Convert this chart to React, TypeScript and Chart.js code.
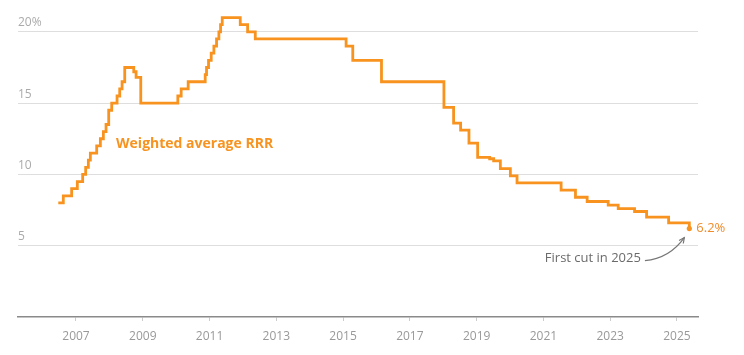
import React, { useEffect, useRef } from "react";
import { Chart, registerables } from "chart.js";

Chart.register(...registerables);

// ---- Data ----
const changeDates: number[] = [
  2006.47, 2006.62, 2006.87, 2007.04, 2007.2, 2007.29, 2007.37, 2007.43, 2007.62, 2007.73,
  2007.82, 2007.9, 2007.98, 2008.07, 2008.23, 2008.31, 2008.38, 2008.46, 2008.73, 2008.8,
  2008.94, 2010.05, 2010.15, 2010.36, 2010.87, 2010.91, 2010.97, 2011.05, 2011.13, 2011.21,
  2011.28, 2011.33, 2011.38, 2011.92, 2012.14, 2012.37, 2015.09, 2015.29, 2016.15, 2018.02,
  2018.31, 2018.52, 2018.77, 2019.03, 2019.39, 2019.51, 2019.71, 2020.01, 2020.21, 2021.53,
  2021.96, 2022.31, 2022.94, 2023.24, 2023.73, 2024.09, 2024.75, 2025.37,
];
const rrrValues: number[] = [
  8.0, 8.5, 9.0, 9.5, 10.0, 10.5, 11.0, 11.5, 12.0, 12.5,
  13.0, 13.5, 14.5, 15.0, 15.5, 16.0, 16.5, 17.5, 17.2, 16.8,
  15.0, 15.5, 16.0, 16.5, 17.0, 17.5, 18.0, 18.5, 19.0, 19.5,
  20.0, 20.5, 21.0, 20.5, 20.0, 19.5, 19.0, 18.0, 16.5, 14.7,
  13.6, 13.1, 12.2, 11.2, 11.1, 10.95, 10.4, 9.9, 9.4, 8.9,
  8.4, 8.1, 7.85, 7.6, 7.4, 7.0, 6.6, 6.2,
];
const xTickYears: number[] = [2007, 2009, 2011, 2013, 2015, 2017, 2019, 2021, 2023, 2025];
const yTickValues: number[] = [0, 5, 10, 15, 20];
const seriesLabel = "Weighted average RRR";
const seriesLabelAt: [number, number] = [2008.2, 12.1];
const noteText = "First cut in 2025";
const noteAt: [number, number] = [2023.92, 4.1];

const ORANGE = "#F7931E";
const FONT = '"Open Sans", "DejaVu Sans", sans-serif';

const annotations = {
  id: "annotations",
  afterDatasetsDraw(chart: any) {
    const { ctx, scales } = chart;
    const x = scales.x;
    const y = scales.y;
    const last = rrrValues.length - 1;
    const lx = x.getPixelForValue(changeDates[last]);
    const ly = y.getPixelForValue(rrrValues[last]);
    ctx.save();
    ctx.textBaseline = "middle";

    // series label
    ctx.font = `bold 14px ${FONT}`;
    ctx.fillStyle = ORANGE;
    ctx.textAlign = "left";
    ctx.fillText(seriesLabel, x.getPixelForValue(seriesLabelAt[0]), y.getPixelForValue(seriesLabelAt[1]));

    // end value label
    ctx.font = `13px ${FONT}`;
    ctx.fillStyle = "#F08C2A";
    ctx.fillText(rrrValues[last].toFixed(1) + "%", lx + 7, ly);

    // note
    const nx = x.getPixelForValue(noteAt[0]);
    const ny = y.getPixelForValue(noteAt[1]);
    ctx.font = `13px ${FONT}`;
    ctx.fillStyle = "#6b6b6b";
    ctx.textAlign = "right";
    ctx.fillText(noteText, nx, ny);

    // curved arrow
    const sx = nx + 4, sy = ny + 2;
    const ex = lx - 5, ey = ly + 9;
    const cx = lx - 20, cy = ny;
    ctx.strokeStyle = "#777";
    ctx.lineWidth = 1.2;
    ctx.beginPath();
    ctx.moveTo(sx, sy);
    ctx.quadraticCurveTo(cx, cy, ex, ey);
    ctx.stroke();
    const ang = Math.atan2(ey - cy, ex - cx);
    const hl = 6;
    ctx.beginPath();
    ctx.moveTo(ex - hl * Math.cos(ang - 0.45), ey - hl * Math.sin(ang - 0.45));
    ctx.lineTo(ex, ey);
    ctx.lineTo(ex - hl * Math.cos(ang + 0.45), ey - hl * Math.sin(ang + 0.45));
    ctx.stroke();
    ctx.restore();
  },
};

export default function App() {
  const canvasRef = useRef<HTMLCanvasElement | null>(null);

  useEffect(() => {
    if (!canvasRef.current) return;
    const last = rrrValues.length - 1;
    const chart = new Chart(canvasRef.current, {
      type: "line",
      data: {
        datasets: [
          {
            label: seriesLabel,
            data: changeDates.map((d, i) => ({ x: d, y: rrrValues[i] })),
            borderColor: ORANGE,
            backgroundColor: ORANGE,
            borderWidth: 2.8,
            stepped: "before",
            pointRadius: (c: any) => (c.dataIndex === last ? 2.6 : 0),
            pointHoverRadius: 0,
            pointBorderWidth: 0,
            fill: false,
          },
        ],
      },
      options: {
        responsive: false,
        animation: false,
        devicePixelRatio: 1,
        layout: { padding: { left: 18, right: 46, top: 0, bottom: 0 } },
        plugins: { legend: { display: false }, tooltip: { enabled: false } },
        scales: {
          x: {
            type: "linear",
            min: 2005.263,
            max: 2025.63,
            afterBuildTicks: (s: any) => {
              s.ticks = xTickYears.map((v) => ({ value: v }));
            },
            afterFit: (s: any) => {
              s.height = 38;
              s.paddingLeft = 0;
              s.paddingRight = 0;
            },
            ticks: {
              callback: (v: any) => String(v),
              color: "#999",
              font: { family: FONT, size: 12 },
              padding: 8,
              maxRotation: 0,
              autoSkip: false,
            },
            grid: {
              display: true,
              drawOnChartArea: false,
              drawTicks: true,
              tickLength: 4,
              color: "#ccc",
            },
            border: { display: true, color: "#8a8a8a", width: 1.5 },
          },
          y: {
            type: "linear",
            min: 0,
            max: 22.05,
            afterBuildTicks: (s: any) => {
              s.ticks = yTickValues.map((v) => ({ value: v }));
            },
            afterFit: (s: any) => {
              s.width = 0;
              s.paddingTop = 0;
              s.paddingBottom = 0;
            },
            ticks: {
              mirror: true,
              padding: 0,
              labelOffset: -9,
              color: "#aaa",
              font: { family: FONT, size: 12 },
              callback: (v: any) => (v === 0 ? "" : v === 20 ? "20%" : String(v)),
            },
            grid: {
              drawTicks: false,
              color: (c: any) => (c.tick && c.tick.value === 0 ? "rgba(0,0,0,0)" : "#dedede"),
              lineWidth: 1,
            },
            border: { display: false },
          },
        },
      },
      plugins: [annotations],
    });
    return () => chart.destroy();
  }, []);

  return (
    <div style={{ position: "absolute", left: 0, top: 0, width: 744, height: 355, background: "#fff" }}>
      <canvas ref={canvasRef} width={744} height={355} style={{ display: "block" }} />
    </div>
  );
}
